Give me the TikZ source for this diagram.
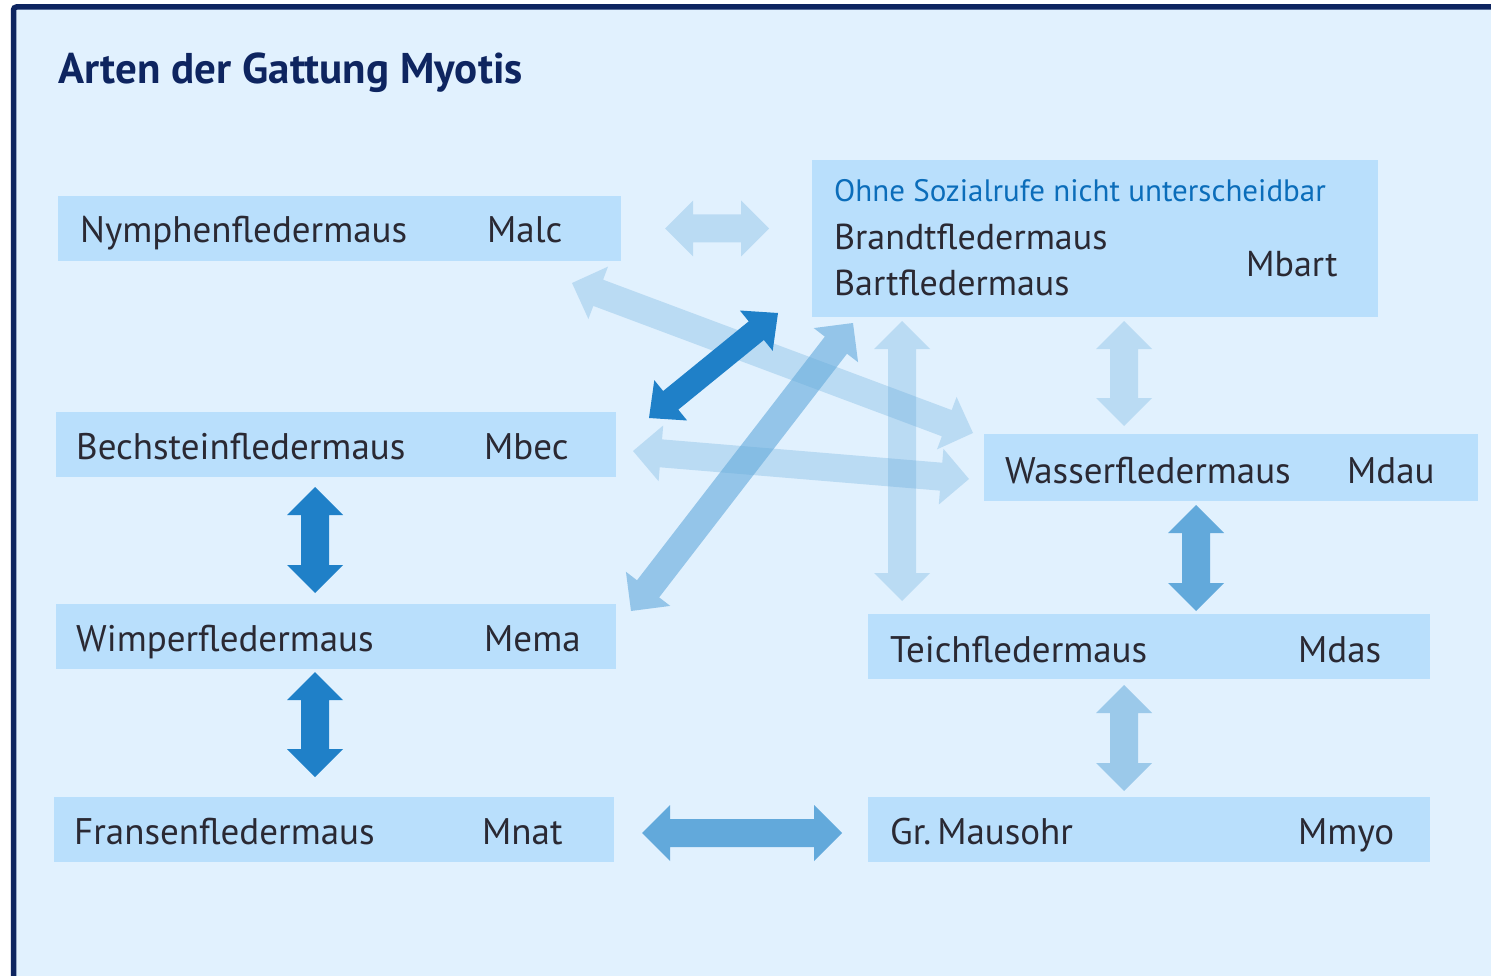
\documentclass[tikz,border=0pt]{standalone}
\usepackage{fontspec}
\setmainfont{PT Sans}
\usetikzlibrary{calc}
\definecolor{bg}{HTML}{E1F1FE}
\definecolor{boxc}{HTML}{B9DFFC}
\definecolor{navy}{HTML}{0E2560}
\definecolor{txt}{HTML}{2A2933}
\definecolor{note}{HTML}{0B6DBA}
\definecolor{darkarr}{HTML}{1F80C8}
\definecolor{midarr}{HTML}{62A9DB}
\tikzset{
  spbox/.style={fill=boxc, draw=none, inner sep=0pt, outer sep=0pt, anchor=north west},
  lbl/.style={anchor=base west, inner sep=0pt, text=txt, font=\fontsize{37pt}{40pt}\selectfont},
  lblb/.style={anchor=base west, inner sep=0pt, text=txt, font=\fontsize{36pt}{40pt}\selectfont},
  notelbl/.style={anchor=base west, inner sep=0pt, text=note, font=\fontsize{31pt}{34pt}\selectfont},
  arrdark/.style={fill=darkarr},
  arrmid/.style={fill=midarr},
  arrlight/.style={fill=midarr, fill opacity=0.3},
  arrsemi/.style={fill=midarr, fill opacity=0.6},
  arrsoft/.style={fill=midarr, fill opacity=0.55},
}
\def\hl{28pt}\def\hw{28pt}\def\sw{14pt}
\newcommand\barrow[3]{%
  \fill[#1] (#2) -- ($(#2)!\hl!(#3)!\hw!90:(#3)$) -- ($(#2)!\hl!(#3)!\sw!90:(#3)$)
   -- ($(#3)!\hl!(#2)!\sw!-90:(#2)$) -- ($(#3)!\hl!(#2)!\hw!-90:(#2)$) -- (#3)
   -- ($(#3)!\hl!(#2)!\hw!90:(#2)$) -- ($(#3)!\hl!(#2)!\sw!90:(#2)$)
   -- ($(#2)!\hl!(#3)!\sw!-90:(#3)$) -- ($(#2)!\hl!(#3)!\hw!-90:(#3)$) -- cycle;}
\begin{document}
\begin{tikzpicture}[x=1pt,y=-1pt]
\useasboundingbox (0,0) rectangle (1491,976);
\fill[white] (0,0) rectangle (1491,976);
\begin{scope}
  \clip (0,0) rectangle (1491,976);
  \draw[fill=bg, draw=navy, line width=5.5pt, rounded corners=3pt] (13.5,7) rectangle (1510,1000);
\end{scope}

\node[anchor=base west, inner sep=0pt, text=navy, font=\bfseries\fontsize{43pt}{46pt}\selectfont] (title) at (58,84) {Arten der Gattung Myotis};

% boxes
\node[spbox, minimum width=563pt, minimum height=65pt] (malc) at (58,196) {};
\node[spbox, minimum width=566pt, minimum height=157pt] (mbart) at (812,160) {};
\node[spbox, minimum width=560pt, minimum height=65pt] (mbec) at (56,412) {};
\node[spbox, minimum width=494pt, minimum height=67pt] (mdau) at (984,434) {};
\node[spbox, minimum width=560pt, minimum height=65pt] (mema) at (56,604) {};
\node[spbox, minimum width=562pt, minimum height=65pt] (mdas) at (868,614) {};
\node[spbox, minimum width=560pt, minimum height=65pt] (mnat) at (54,797) {};
\node[spbox, minimum width=562pt, minimum height=65pt] (mmyo) at (868,797) {};

% labels
\node[lbl] (malcn) at (80,243) {Nymphenfledermaus};
\node[lbl] (malcc) at (487,243) {Malc};
\node[notelbl] (note) at (834,202) {Ohne Sozialrufe nicht unterscheidbar};
\node[lblb] (brandt) at (834,250) {Brandtfledermaus};
\node[lblb] (bart) at (834,295) {Bartfledermaus};
\node[lblb] (mbartc) at (1246,277) {Mbart};
\node[lbl] (mbecn) at (76,459) {Bechsteinfledermaus};
\node[lbl] (mbecc) at (484,459) {Mbec};
\node[lbl] (mdaun) at (1005,483) {Wasserfledermaus};
\node[lbl] (mdauc) at (1347,483) {Mdau};
\node[lbl] (meman) at (76,651) {Wimperfledermaus};
\node[lbl] (memac) at (484,651) {Mema};
\node[lbl] (mdasn) at (890,662) {Teichfledermaus};
\node[lbl] (mdasc) at (1298,662) {Mdas};
\node[lbl] (mnatn) at (74,844) {Fransenfledermaus};
\node[lbl] (mnatc) at (482,844) {Mnat};
\node[lbl] (mmyon) at (890,844) {Gr.\,Mausohr};
\node[lbl] (mmyoc) at (1298,844) {Mmyo};

% arrow end points
\coordinate (a1s) at (665,228.5);  \coordinate (a1e) at (769,228.5);
\coordinate (a2s) at (572,283);    \coordinate (a2e) at (973,433);
\coordinate (a3s) at (649,418);    \coordinate (a3e) at (778,313);
\coordinate (a4s) at (631,611);    \coordinate (a4e) at (853,323);
\coordinate (a5s) at (633,451);    \coordinate (a5e) at (969,479);
\coordinate (a6s) at (902,321);    \coordinate (a6e) at (902,601);
\coordinate (a7s) at (1124,321);   \coordinate (a7e) at (1124,426);
\coordinate (a8s) at (1196,505);   \coordinate (a8e) at (1196,611);
\coordinate (a9s) at (315,487);    \coordinate (a9e) at (315,593);
\coordinate (a10s) at (315,672);   \coordinate (a10e) at (315,777);
\coordinate (a11s) at (1124,685);  \coordinate (a11e) at (1124,791);
\coordinate (a12s) at (642,833);   \coordinate (a12e) at (842,833);

% arrows
\barrow{arrlight}{a1s}{a1e}
\barrow{arrlight}{a2s}{a2e}
\barrow{arrlight}{a5s}{a5e}
\barrow{arrlight}{a6s}{a6e}
\barrow{arrlight}{a7s}{a7e}
\barrow{arrsemi}{a4s}{a4e}
\barrow{arrmid}{a8s}{a8e}
\barrow{arrsoft}{a11s}{a11e}
\barrow{arrmid}{a12s}{a12e}
\barrow{arrdark}{a9s}{a9e}
\barrow{arrdark}{a10s}{a10e}
{\def\hw{26pt}\def\sw{12pt}\barrow{arrdark}{a3s}{a3e}}
\end{tikzpicture}
\end{document}
